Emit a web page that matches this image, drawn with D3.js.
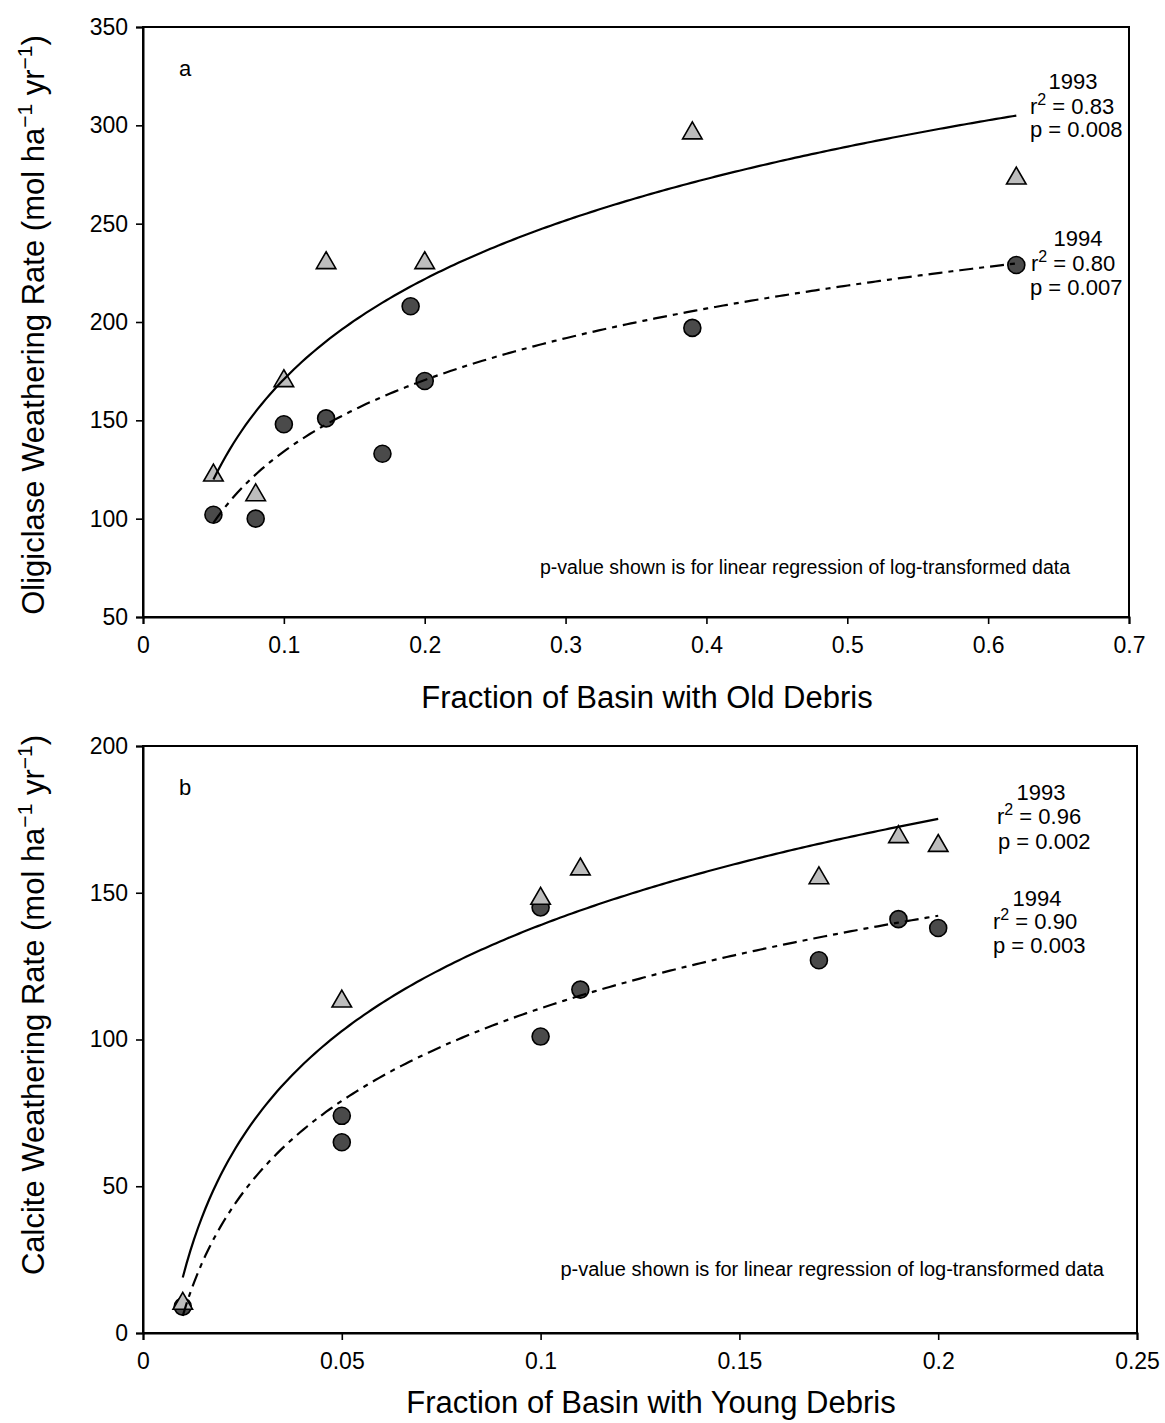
<!DOCTYPE html>
<html><head><meta charset="utf-8">
<script src="https://cdn.jsdelivr.net/npm/d3@7/dist/d3.min.js"></script>
<style>body{margin:0;background:#fff}svg{display:block}text{font-family:"Liberation Sans",Arial,Helvetica,sans-serif;fill:#000}</style>
</head><body><svg id="c" width="1165" height="1423"></svg>
<script>
// Panel a: Oligiclase vs fraction old debris
const aX1993 = [0.05, 0.08, 0.10, 0.13, 0.20, 0.39, 0.62];
const aY1993 = [122, 112, 170, 230, 230, 296, 273];
const aX1994 = [0.05, 0.08, 0.10, 0.13, 0.17, 0.19, 0.20, 0.39, 0.62];
const aY1994 = [102, 100, 148, 151, 133, 208, 170, 197, 229];
const aXTicks = [0, 0.1, 0.2, 0.3, 0.4, 0.5, 0.6, 0.7];
const aXTickLabels = ["0", "0.1", "0.2", "0.3", "0.4", "0.5", "0.6", "0.7"];
const aYTicks = [50, 100, 150, 200, 250, 300, 350];
// Panel b: Calcite vs fraction young debris
const bX1993 = [0.01, 0.05, 0.10, 0.11, 0.17, 0.19, 0.20];
const bY1993 = [10, 113, 148, 158, 155, 169, 166];
const bX1994 = [0.01, 0.05, 0.05, 0.10, 0.10, 0.11, 0.17, 0.19, 0.20];
const bY1994 = [9, 74, 65, 145, 101, 117, 127, 141, 138];
const bXTicks = [0, 0.05, 0.1, 0.15, 0.2, 0.25];
const bXTickLabels = ["0", "0.05", "0.1", "0.15", "0.2", "0.25"];
const bYTicks = [0, 50, 100, 150, 200];

const svg = d3.select("#c");

function logFit(xs, ys) {
  const lx = xs.map(Math.log);
  const mx = d3.mean(lx), my = d3.mean(ys);
  let sxy = 0, sxx = 0;
  lx.forEach((v, i) => { sxy += (v - mx) * (ys[i] - my); sxx += (v - mx) * (v - mx); });
  const b = sxy / sxx, a = my - b * mx;
  return x => a + b * Math.log(x);
}

function panel(cfg) {
  const x = d3.scaleLinear().domain(cfg.xDomain).range([cfg.left, cfg.right]);
  const y = d3.scaleLinear().domain(cfg.yDomain).range([cfg.bottom, cfg.top]);
  const g = svg.append("g");

  // markers
  const tri = d3.symbol().type(d3.symbolTriangle).size(165);
  g.selectAll(".c94").data(cfg.x94.map((v, i) => [v, cfg.y94[i]])).join("circle")
    .attr("cx", d => x(d[0])).attr("cy", d => y(d[1])).attr("r", 8.5)
    .attr("fill", "#4a4a4a").attr("stroke", "#000").attr("stroke-width", 1.6);
  g.selectAll(".t93").data(cfg.x93.map((v, i) => [v, cfg.y93[i]])).join("path")
    .attr("d", tri).attr("transform", d => `translate(${x(d[0])},${y(d[1])})`)
    .attr("fill", "#bdbdbd").attr("stroke", "#000").attr("stroke-width", 1.6);

  // fits
  const line = d3.line().x(d => x(d[0])).y(d => y(d[1]));
  [[cfg.x93, cfg.y93, null], [cfg.x94, cfg.y94, "14,6,5,6"]].forEach(([xs, ys, dash]) => {
    const f = logFit(xs, ys);
    const [lo, hi] = d3.extent(xs);
    const pts = d3.range(0, 201).map(i => { const v = lo + (hi - lo) * i / 200; return [v, f(v)]; });
    g.append("path").attr("d", line(pts)).attr("fill", "none").attr("stroke", "#000")
      .attr("stroke-width", 2.2).attr("stroke-dasharray", dash);
  });

  // frame
  g.append("rect").attr("x", cfg.left).attr("y", cfg.top).attr("width", cfg.right - cfg.left)
    .attr("height", cfg.bottom - cfg.top).attr("fill", "none").attr("stroke", "#000").attr("stroke-width", 2);

  // axes
  const xa = g.append("g").attr("transform", `translate(0,${cfg.bottom})`)
    .call(d3.axisBottom(x).tickValues(cfg.xTicks).tickFormat((d, i) => cfg.xTickLabels[i]).tickSize(7).tickPadding(13));
  const ya = g.append("g").attr("transform", `translate(${cfg.left},0)`)
    .call(d3.axisLeft(y).tickValues(cfg.yTicks).tickFormat(d3.format("d")).tickSize(7).tickPadding(8));
  [xa, ya].forEach(a => {
    a.select(".domain").attr("stroke-width", 2);
    a.selectAll(".tick line").attr("stroke-width", 1.6);
    a.selectAll("text").attr("font-size", 23).attr("font-family", "Liberation Sans, Arial, sans-serif");
  });

  // axis titles
  g.append("text").attr("x", cfg.xTitleX).attr("y", cfg.xTitleY)
    .attr("text-anchor", "middle").attr("font-size", 31).text(cfg.xTitle);
  const yt = g.append("text").attr("transform", `translate(44,${cfg.yTitleC}) rotate(-90)`)
    .attr("text-anchor", "middle").attr("font-size", 31);
  yt.append("tspan").text(cfg.yTitle + " (mol ha");
  yt.append("tspan").attr("dy", -12).attr("font-size", 21).text("\u22121");
  yt.append("tspan").attr("dy", 12).text(" yr");
  yt.append("tspan").attr("dy", -12).attr("font-size", 21).text("\u22121");
  yt.append("tspan").attr("dy", 12).text(")");

  // panel letter
  g.append("text").attr("x", cfg.left + 36).attr("y", cfg.top + 49).attr("font-size", 22).text(cfg.letter);

  // annotations
  cfg.notes.forEach(n => {
    const t = g.append("text").attr("x", n.x).attr("y", n.y)
      .attr("text-anchor", n.anchor || "start").attr("font-size", 22);
    if (n.sup) {
      t.append("tspan").text("r");
      t.append("tspan").attr("dy", -9).attr("font-size", 16).text("2");
      t.append("tspan").attr("dy", 9).text(" = " + n.text);
    } else t.text(n.text);
  });
  g.append("text").attr("x", cfg.footX).attr("y", cfg.footY).attr("text-anchor", "end")
    .attr("font-size", cfg.footSize).text("p-value shown is for linear regression of log-transformed data");
}

panel({
  left: 143, right: 1129, top: 27, bottom: 617,
  xDomain: [0, 0.7], yDomain: [50, 350],
  x93: aX1993, y93: aY1993, x94: aX1994, y94: aY1994,
  xTicks: aXTicks, xTickLabels: aXTickLabels, yTicks: aYTicks,
  xTitle: "Fraction of Basin with Old Debris", yTitle: "Oligiclase Weathering Rate",
  xTitleX: 647, xTitleY: 708, yTitleC: 325,
  letter: "a", footX: 1070, footY: 574, footSize: 19.5,
  notes: [
    {x: 1073, y: 89, text: "1993", anchor: "middle"}, {x: 1030, y: 114, text: "0.83", sup: true}, {x: 1030, y: 137, text: "p = 0.008"},
    {x: 1078, y: 246, text: "1994", anchor: "middle"}, {x: 1031, y: 271, text: "0.80", sup: true}, {x: 1030, y: 295, text: "p = 0.007"}
  ]
});
panel({
  left: 143, right: 1137, top: 746, bottom: 1333,
  xDomain: [0, 0.25], yDomain: [0, 200],
  x93: bX1993, y93: bY1993, x94: bX1994, y94: bY1994,
  xTicks: bXTicks, xTickLabels: bXTickLabels, yTicks: bYTicks,
  xTitle: "Fraction of Basin with Young Debris", yTitle: "Calcite Weathering Rate",
  xTitleX: 651, xTitleY: 1413, yTitleC: 1005,
  letter: "b", footX: 1104, footY: 1276, footSize: 20,
  notes: [
    {x: 1041, y: 800, text: "1993", anchor: "middle"}, {x: 997, y: 824, text: "0.96", sup: true}, {x: 998, y: 849, text: "p = 0.002"},
    {x: 1037, y: 906, text: "1994", anchor: "middle"}, {x: 993, y: 929, text: "0.90", sup: true}, {x: 993, y: 953, text: "p = 0.003"}
  ]
});
</script></body></html>
